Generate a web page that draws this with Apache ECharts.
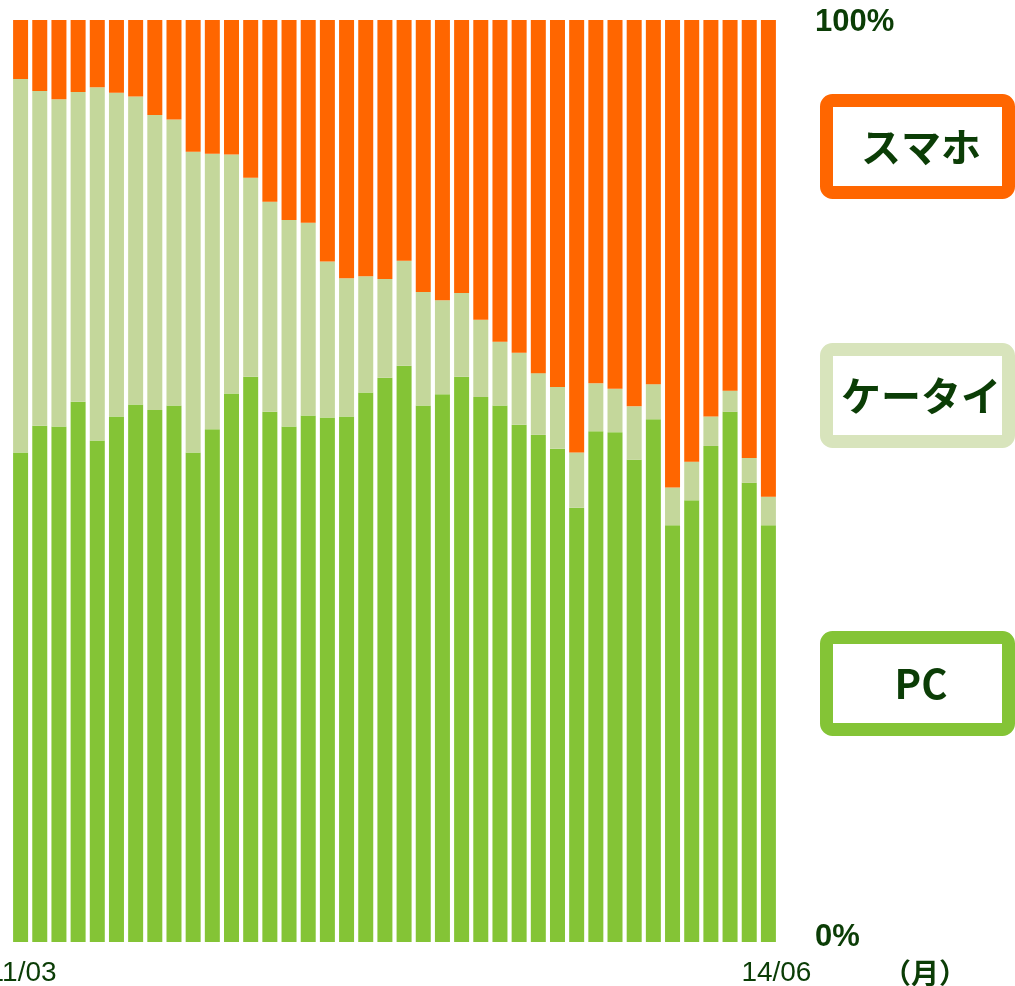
<!DOCTYPE html>
<html>
<head>
<meta charset="utf-8">
<script src="https://cdn.jsdelivr.net/npm/echarts@6/dist/echarts.min.js"></script>
<style>
  html, body { margin: 0; padding: 0; background: #fff; }
  #main { width: 1015px; height: 986px; }
</style>
</head>
<body>
<div id="main"></div>
<script type="text/javascript">
// 月 (11/03 〜 14/06)
var months = [
  '11/03','11/04','11/05','11/06','11/07','11/08','11/09','11/10','11/11','11/12',
  '12/01','12/02','12/03','12/04','12/05','12/06','12/07','12/08','12/09','12/10','12/11','12/12',
  '13/01','13/02','13/03','13/04','13/05','13/06','13/07','13/08','13/09','13/10','13/11','13/12',
  '14/01','14/02','14/03','14/04','14/05','14/06'
];
// 構成比 (%)
var pcShare = [
  53.1, 56.0, 55.9, 58.6, 54.4, 57.0, 58.3, 57.7, 58.2, 53.1,
  55.6, 59.5, 61.3, 57.5, 55.9, 57.1, 56.9, 57.0, 59.6, 61.2,
  62.5, 58.2, 59.4, 61.3, 59.1, 58.2, 56.1, 55.0, 53.5, 47.1,
  55.4, 55.3, 52.3, 56.7, 45.2, 47.9, 53.8, 57.5, 49.8, 45.2
];
var keitaiShare = [
  40.5, 36.3, 35.5, 33.6, 38.3, 35.1, 33.4, 32.0, 31.0, 32.6,
  29.9, 25.9, 21.6, 22.8, 22.4, 20.9, 16.9, 15.0, 12.6, 10.7,
  11.4, 12.3, 10.2, 9.1, 8.4, 6.9, 7.8, 6.7, 6.7, 6.0,
  5.2, 4.7, 5.8, 3.8, 4.1, 4.2, 3.2, 2.3, 2.7, 3.1
];
var smaphoShare = [
  6.4, 7.7, 8.6, 7.8, 7.3, 7.9, 8.3, 10.3, 10.8, 14.3,
  14.5, 14.6, 17.1, 19.7, 21.7, 22.0, 26.2, 28.0, 27.8, 28.1,
  26.1, 29.5, 30.4, 29.6, 32.5, 34.9, 36.1, 38.3, 39.8, 46.9,
  39.4, 40.0, 41.9, 39.5, 50.7, 47.9, 43.0, 40.2, 47.5, 51.7
];

var textColor = '#0b3d06';
var colorPC = '#84c436';
var colorKeitai = '#c4d79b';
var colorSmapho = '#ff6600';

// 右側の凡例ボックス
function legendBox(y, color, label) {
  return [
    {
      type: 'rect',
      shape: { x: 826.5, y: y + 6.5, width: 182, height: 92, r: 6 },
      style: { fill: '#fff', stroke: color, lineWidth: 13 }
    },
    {
      type: 'text',
      x: 921, y: y + 53,
      style: {
        text: label,
        fill: textColor,
        font: 'bold 40px "Noto Sans CJK JP", "Noto Sans", sans-serif',
        align: 'center',
        verticalAlign: 'middle'
      }
    }
  ];
}

var labelFont = { color: textColor, fontSize: 28, fontFamily: '"Liberation Sans", sans-serif' };

var chart = echarts.init(document.getElementById('main'));
chart.setOption({
  animation: false,
  grid: { left: 11, right: 237, top: 20, bottom: 44, containLabel: false, outerBoundsMode: 'none' },
  xAxis: {
    type: 'category',
    data: months,
    axisLine: { show: false },
    axisTick: { show: false },
    axisLabel: {
      interval: function (idx) { return idx === 0 || idx === months.length - 1; },
      formatter: function (v, idx) {
        return idx === months.length - 1 ? '{last|' + v + '}' : '{first|' + v + '}';
      },
      rich: {
        first: Object.assign({ padding: [0, 0, 0, 4] }, labelFont),
        last: Object.assign({ padding: [0, 0, 0, 16] }, labelFont)
      },
      margin: 17,
      hideOverlap: false
    }
  },
  yAxis: {
    type: 'value',
    min: 0,
    max: 100,
    interval: 100,
    position: 'right',
    splitLine: { show: false },
    axisLine: { show: false },
    axisTick: { show: false },
    axisLabel: {
      margin: 37,
      formatter: function (v) { return v === 0 ? '{z|0%}' : '{h|100%}'; },
      rich: {
        z: { color: textColor, fontSize: 31, fontWeight: 'bold', fontFamily: '"Liberation Sans", sans-serif', padding: [0, 0, 10, 0] },
        h: { color: textColor, fontSize: 31, fontWeight: 'bold', fontFamily: '"Liberation Sans", sans-serif', padding: [4, 0, 0, 0] }
      }
    }
  },
  series: [
    { name: 'PC', type: 'bar', stack: 'share', data: pcShare, barWidth: 15, itemStyle: { color: colorPC } },
    { name: 'ケータイ', type: 'bar', stack: 'share', data: keitaiShare, barWidth: 15, itemStyle: { color: colorKeitai } },
    { name: 'スマホ', type: 'bar', stack: 'share', data: smaphoShare, barWidth: 15, itemStyle: { color: colorSmapho } }
  ],
  graphic: [].concat(
    legendBox(94, colorSmapho, 'スマホ'),
    legendBox(343, '#d8e4bc', 'ケータイ'),
    legendBox(631, colorPC, 'PC'),
    [{
      type: 'text',
      x: 925, y: 973,
      style: {
        text: '（月）',
        fill: textColor,
        font: 'bold 28px "Noto Sans CJK JP", sans-serif',
        align: 'center',
        verticalAlign: 'middle'
      }
    }]
  )
});
</script>
</body>
</html>
